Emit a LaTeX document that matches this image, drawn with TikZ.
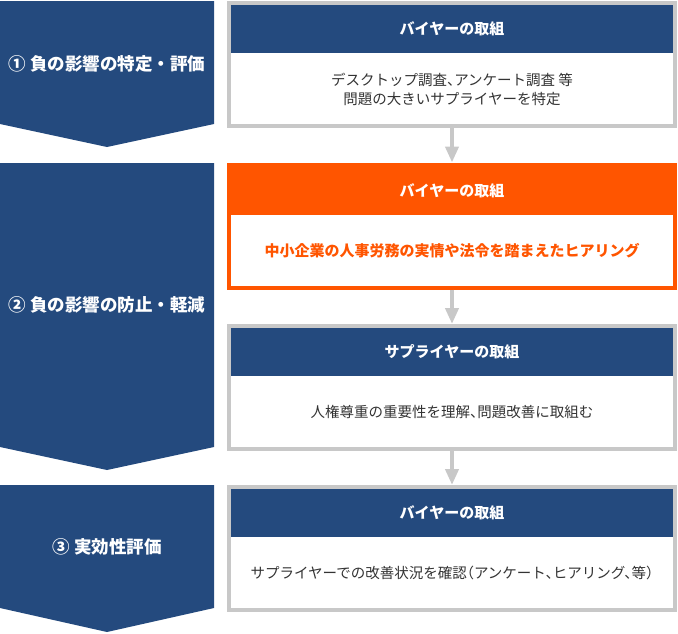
\documentclass[tikz,border=0pt]{standalone}
\usepackage{fontspec}
\setmainfont{Noto Sans CJK JP}
\newfontfamily\bodyfont{Noto Sans CJK JP}[RawFeature=+halt]
\usepackage{xcolor}
\usetikzlibrary{arrows.meta,positioning}
\definecolor{navy}{RGB}{36,74,126}
\definecolor{accent}{RGB}{255,85,0}
\definecolor{framegray}{RGB}{200,200,200}
\definecolor{ink}{RGB}{51,51,51}

\begin{document}
\begin{tikzpicture}[x=1pt, y=-1pt,
	step_style/.style={
	    fill=navy
	    },
	step_text/.style={
	    text=white,
	    font=\fontsize{17.5}{20}\selectfont\bfseries
	    },
	frame_style/.style={
	    rectangle,
	    draw=framegray,
	    line width=4pt,
	    fill=white,
	    minimum width=446pt,
	    minimum height=123pt
	    },
	head_style/.style={
	    rectangle,
	    fill=navy,
	    text=white,
	    inner sep=0pt,
	    minimum width=442pt,
	    minimum height=48pt,
	    font=\fontsize{15}{18}\selectfont\bfseries
	    },
	body_style/.style={
	    align=center,
	    text=ink,
	    font=\bodyfont\fontsize{14.5}{19}\selectfont
	    },
	flow_style/.style={
	    draw=framegray,
	    line width=4pt,
	    -{Triangle[width=13pt,length=16pt]}
	    }
	]
	\useasboundingbox (0,0) rectangle (678,633);

	% the three steps on the left
	\fill[step_style] (0,1) -- (214,1) -- (214,124) -- (107,147) -- (0,124) -- cycle;
	\fill[step_style] (0,163) -- (214,163) -- (214,447) -- (107,470) -- (0,447) -- cycle;
	\fill[step_style] (0,485) -- (214,485) -- (214,608) -- (107,632) -- (0,608) -- cycle;
	\node[step_text] (step1) at (107,64) {① 負の影響の特定・評価};
	\node[step_text] (step2) at (107,305) {② 負の影響の防止・軽減};
	\node[step_text] (step3) at (107,547) {③ 実効性評価};

	% all the boxes
	\node[frame_style] (box1) at (452,64.5) {};
	\node[frame_style, draw=accent] (box2) at (452,226) {};
	\node[frame_style] (box3) at (452,387.5) {};
	\node[frame_style] (box4) at (452,548.5) {};

	\node[head_style, below=4pt of box1.north] (head1) {バイヤーの取組};
	\node[head_style, fill=accent, below=4pt of box2.north] (head2) {バイヤーの取組};
	\node[head_style, below=4pt of box3.north] (head3) {サプライヤーの取組};
	\node[head_style, below=4pt of box4.north] (head4) {バイヤーの取組};

	\node[body_style] (body1) at (452,89) {デスクトップ調査、アンケート調査 等\\問題の大きいサプライヤーを特定};
	\node[body_style, text=accent, font=\fontsize{15}{18}\selectfont\bfseries] (body2) at (452,251) {中小企業の人事労務の実情や法令を踏まえたヒアリング};
	\node[body_style] (body3) at (452,412) {人権尊重の重要性を理解、問題改善に取組む};
	\node[body_style] (body4) at (452,573) {サプライヤーでの改善状況を確認（アンケート、ヒアリング、等）};

	\draw[flow_style] (box1) -- (box2);
	\draw[flow_style] (box2) -- (box3);
	\draw[flow_style] (box3) -- (box4);
\end{tikzpicture}
\end{document}
